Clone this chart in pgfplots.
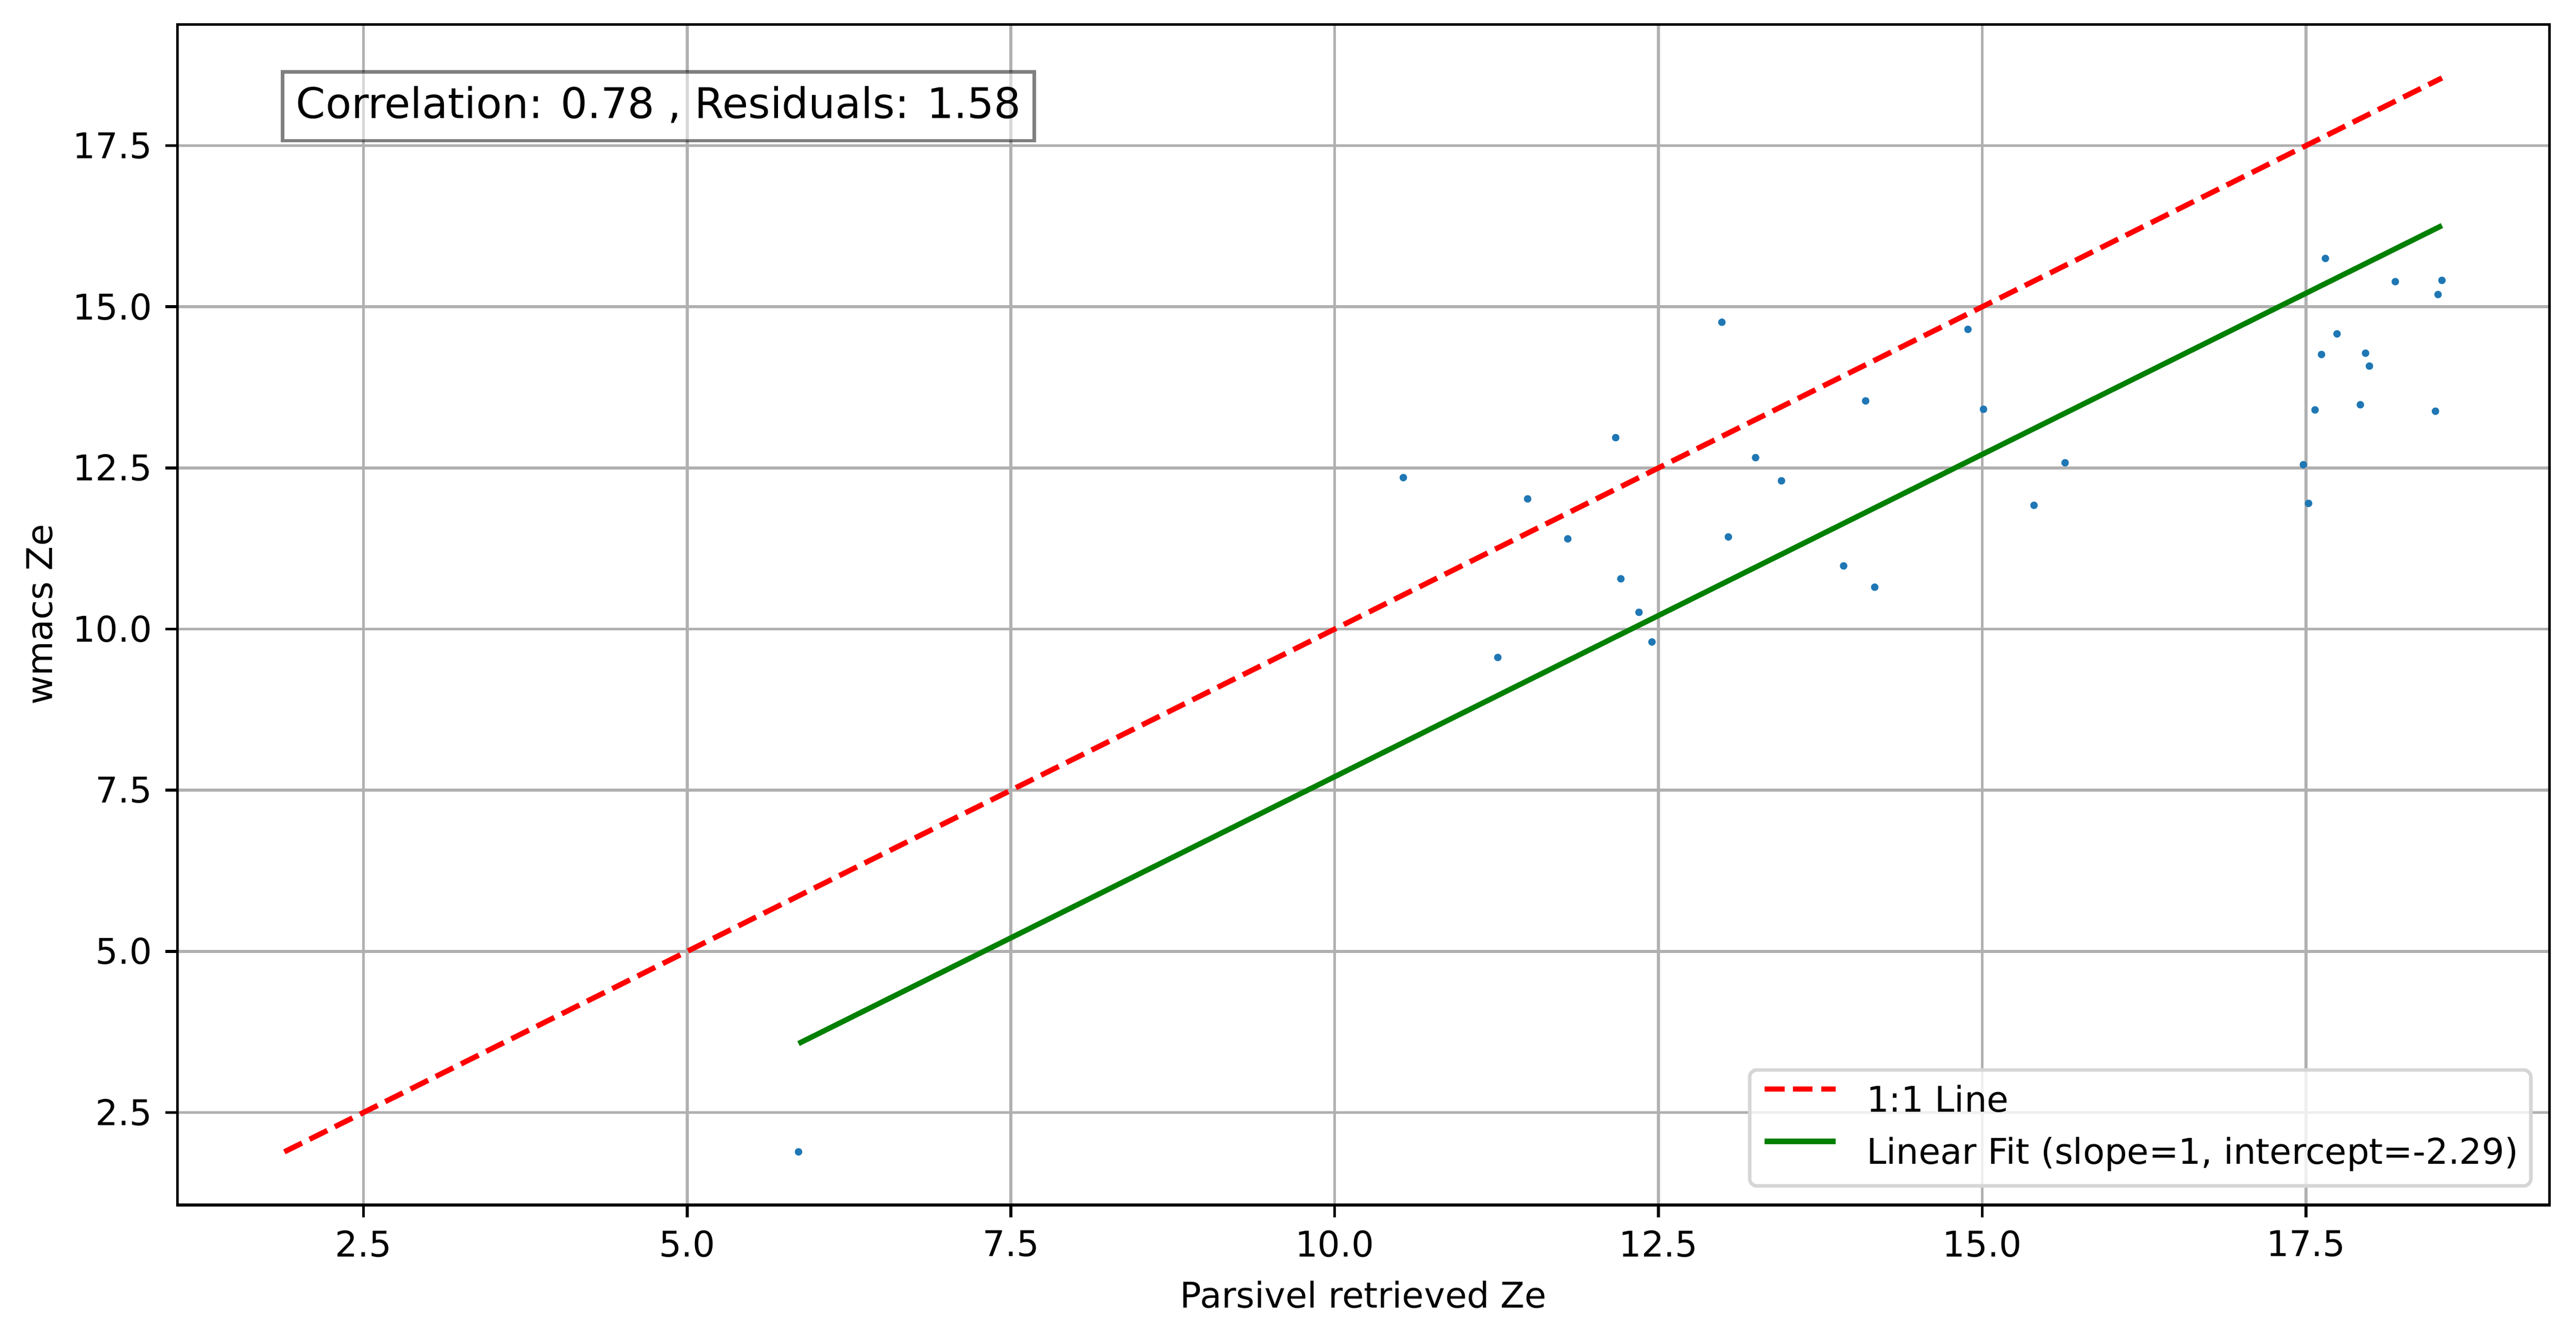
\documentclass[border=0pt]{standalone}
\usepackage{fontspec}
\setmainfont{DejaVu Sans}
\usepackage{pgfplots}
\pgfplotsset{compat=1.18}
\definecolor{c0}{HTML}{1F77B4}
\definecolor{fitgreen}{HTML}{008000}
\begin{document}
\begin{tikzpicture}
\begin{axis}[
  scale only axis,
  width=669.3bp, height=333bp,
  xmin=1.065, xmax=19.38, ymin=1.065, ymax=19.38,
  xtick={2.5,5,7.5,10,12.5,15,17.5},
  ytick={2.5,5,7.5,10,12.5,15,17.5},
  /pgf/number format/assume math mode=true,
  /pgf/number format/.cd, fixed, fixed zerofill, precision=1, /pgfplots/.cd,
  tick label style={font=\fontsize{10bp}{12bp}\selectfont, inner sep=0pt},
  xticklabel style={anchor=north},
  yticklabel style={anchor=east},
  xticklabel shift=3.5bp,
  yticklabel shift=3.5bp,
  tick align=outside,
  tick pos=left,
  major tick length=3.5bp,
  every tick/.style={black, line width=0.8bp},
  axis line style={line width=0.8bp},
  grid=major,
  grid style={color=black!31, line width=0.8bp},
  xlabel={Parsivel retrieved Ze},
  ylabel={wmacs Ze},
  label style={font=\fontsize{10bp}{12bp}\selectfont, inner sep=0pt},
  xlabel style={at={(axis description cs:0.5,-0.0871)}, anchor=base},
  ylabel style={at={(axis description cs:-0.05274,0.5)}, anchor=base, rotate=0},
  legend cell align=left,
  legend image code/.code={\draw[#1] (0bp,3.6bp) -- (20bp,3.6bp);},
  legend style={
    at={(axis description cs:1,0)}, anchor=south east,
    xshift=-4.75bp, yshift=4.9bp,
    draw=black!16, line width=1bp, rounded corners=2bp,
    fill=white, fill opacity=0.8, text opacity=1,
    font=\fontsize{10bp}{12bp}\selectfont,
    inner xsep=3.5bp, inner ysep=4.5bp,
    row sep=5.9bp, column sep=8bp,
    nodes={inner sep=0pt, text height=7.3bp, text depth=1.6bp},
  },
]
\addplot[only marks, color=c0, mark=*, mark size=1bp, mark options={fill=c0, draw=c0, line width=0.1bp}, forget plot] coordinates {
(12.99,14.76) (14.10,13.54) (12.17,12.97) (13.25,12.66) (10.53,12.35)
(13.45,12.30) (11.49,12.02) (11.80,11.40) (13.04,11.43) (13.93,10.98)
(14.17,10.65) (12.21,10.78) (12.35,10.26) (12.45,9.80) (11.26,9.56)
(14.89,14.65) (17.74,14.58) (17.62,14.26) (17.96,14.28) (17.99,14.08)
(15.01,13.41) (17.57,13.40) (17.92,13.48) (18.50,13.38) (15.64,12.58)
(17.48,12.55) (15.40,11.92) (17.52,11.95) (17.65,15.75) (18.19,15.39)
(18.55,15.41) (18.52,15.19) (5.86,1.89)
};
\addplot[color=red, line width=1.5bp, dash pattern=on 5.55bp off 2.4bp] coordinates {(1.89,1.89) (18.55,18.55)};
\addlegendentry{1:1 Line}
\addplot[color=fitgreen, line width=1.5bp] coordinates {(5.86,3.57) (18.55,16.26)};
\addlegendentry{Linear Fit (slope=1, intercept=-2.29)}
\node[anchor=north west, draw=black, draw opacity=0.5, fill=white, fill opacity=0.5, text opacity=1,
  line width=1bp, inner xsep=3.8bp, inner ysep=4.4bp, text height=8.7bp, text depth=1.9bp,
  font=\fontsize{11.9bp}{14bp}\selectfont] at (axis description cs:0.0436,0.9613)
  {Correlation: 0.78 , Residuals: 1.58};
\end{axis}
\pgfresetboundingbox
\path ([shift={(-50.1bp,-37.4bp)}]current axis.south west) rectangle ([shift={(7.5bp,6.9bp)}]current axis.north east);
\end{tikzpicture}
\end{document}
